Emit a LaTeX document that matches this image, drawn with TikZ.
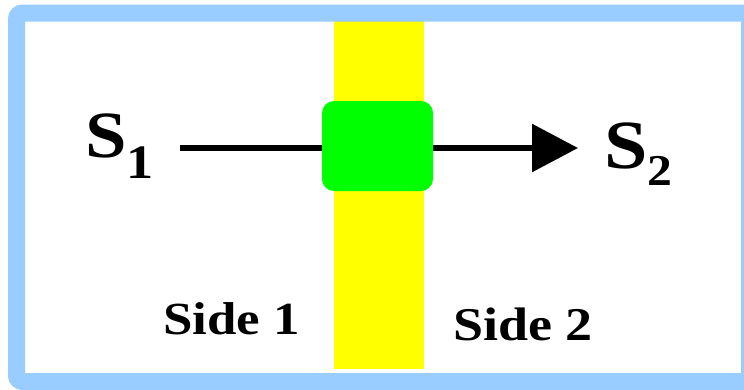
\documentclass[tikz,border=0pt]{standalone}
\usepackage{fontspec}
\setmainfont{Liberation Serif}[BoldFont={Liberation Serif Bold}]
\newfontfamily\timesbold{Liberation Serif Bold}
\usetikzlibrary{arrows.meta}
\definecolor{frameblue}{HTML}{99CCFF}
\definecolor{bandyellow}{HTML}{FFFF00}
\definecolor{boxgreen}{HTML}{00FF00}
\tikzset{
  lbl/.style={inner sep=0pt, outer sep=0pt, anchor=base west, font=\timesbold},
  bandbox/.style={fill=bandyellow, draw=none, inner sep=0pt, minimum width=90pt, minimum height=348pt},
  greenbox/.style={fill=boxgreen, draw=none, rounded corners=12pt, inner sep=0pt, minimum width=111pt, minimum height=90pt},
  flow/.style={line width=6pt, -{Triangle[length=46pt, width=47pt]}},
}
\begin{document}
\begin{tikzpicture}[x=1pt, y=-1pt]
\useasboundingbox (0,0) rectangle (744,389);
\clip (0,0) rectangle (744,389);
\fill[white] (0,0) rectangle (744,389);
\node[bandbox] (band) at (379,195) {};
\coordinate (a) at (180,148);
\coordinate (b) at (578,148);
\draw[flow] (a) -- (b);
\node[greenbox] (g) at (377.5,146) {};
\node[lbl] (s1) at (85,157) {\scalebox{1.13}[1]{\fontsize{66}{66}\selectfont S\raisebox{-21pt}{\fontsize{48}{48}\selectfont 1}}};
\node[lbl] (s2) at (604,168) {\scalebox{1.13}[1]{\fontsize{69}{69}\selectfont S\raisebox{-17pt}{\fontsize{44}{44}\selectfont 2}}};
\node[lbl] (side1) at (163,334) {\scalebox{1.15}[1]{\fontsize{46}{46}\selectfont Side 1}};
\node[lbl] (side2) at (453,340) {\scalebox{1.15}[1]{\fontsize{47}{47}\selectfont Side 2}};
\draw[frameblue, line width=17pt, rounded corners=6pt] (16.5,13) rectangle (749.5,381.5);
\end{tikzpicture}
\end{document}
